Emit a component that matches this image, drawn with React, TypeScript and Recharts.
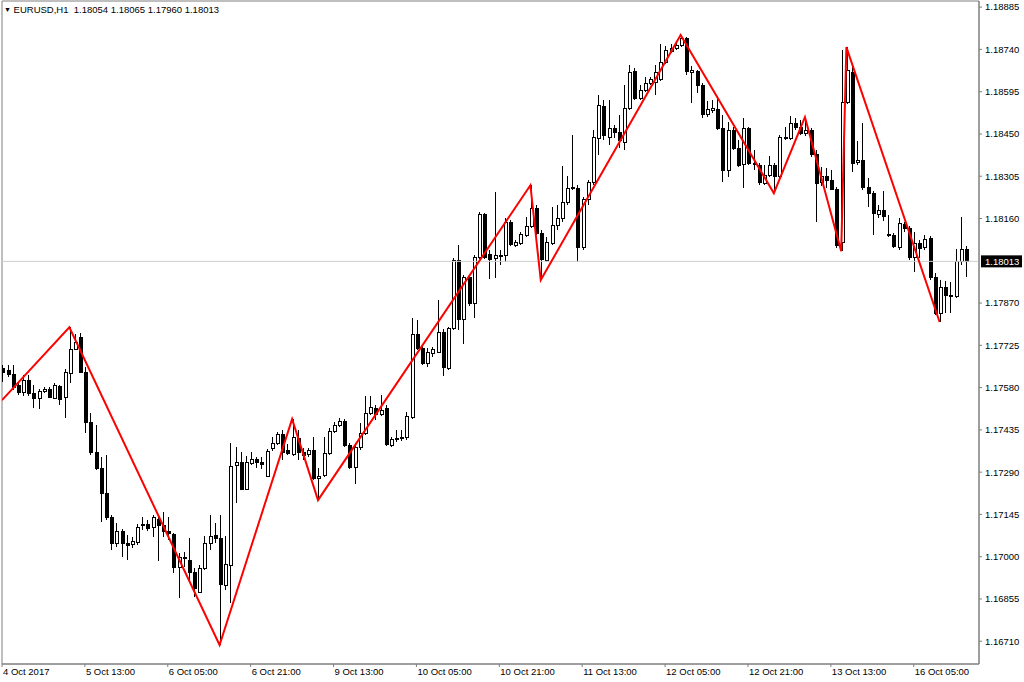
import React from "react";
import {
  Bar,
  ComposedChart,
  Line,
  ReferenceArea,
  ReferenceLine,
  XAxis,
  YAxis
} from "recharts";

const FONT = "'Liberation Sans', Arial, sans-serif";
const SYMBOL = "EURUSD,H1";
const LAST_OHLC = [1.18054, 1.18065, 1.1796, 1.18013];
const LAST_PRICE = 1.18013;

// EURUSD H1, 4 Oct 21:00 .. 16 Oct 15:00 (one value per bar)
const OPENS = [
  1.17647, 1.1764, 1.17626, 1.17588, 1.17564, 1.17606, 1.17561, 1.17544, 1.17568, 1.17575,
  1.17544, 1.17585, 1.17547, 1.1763, 1.17712, 1.17753, 1.17633, 1.17462, 1.17359, 1.17304,
  1.17218, 1.17136, 1.17047, 1.17088, 1.17047, 1.17043, 1.1705, 1.17112, 1.17112, 1.17101,
  1.17129, 1.17108, 1.17088, 1.17077, 1.16964, 1.16995, 1.16988, 1.16947, 1.16878, 1.16961,
  1.17047, 1.17074, 1.17064, 1.16902, 1.16971, 1.17314, 1.17324, 1.17232, 1.17321, 1.17335,
  1.17324, 1.17276, 1.17372, 1.17389, 1.1742, 1.17365, 1.17352, 1.17407, 1.17359, 1.17352,
  1.17365, 1.17269, 1.1728, 1.17355, 1.17431, 1.17451, 1.17465, 1.17383, 1.17307, 1.17376,
  1.17424, 1.17492, 1.1751, 1.17489, 1.1751, 1.17383, 1.17403, 1.17407, 1.1741, 1.17479,
  1.17763, 1.17715, 1.17664, 1.17698, 1.17702, 1.1777, 1.17647, 1.17784, 1.18017, 1.17815,
  1.17959, 1.1787, 1.18027, 1.18175, 1.18038, 1.18024, 1.18034, 1.18034, 1.18148, 1.18069,
  1.18075, 1.18103, 1.18134, 1.18196, 1.1811, 1.18017, 1.18075, 1.18137, 1.18161, 1.18216,
  1.18268, 1.18264, 1.18062, 1.18226, 1.18285, 1.18436, 1.18545, 1.18439, 1.18467, 1.18456,
  1.18422, 1.18539, 1.18665, 1.18573, 1.186, 1.18624, 1.18628, 1.18638, 1.18696, 1.18734,
  1.18744, 1.18755, 1.18779, 1.18662, 1.18665, 1.18617, 1.18515, 1.18532, 1.18535, 1.1847,
  1.18326, 1.18463, 1.18401, 1.18346, 1.18467, 1.1835, 1.18343, 1.18281, 1.18309, 1.18343,
  1.18305, 1.18436, 1.18436, 1.18487, 1.18473, 1.18453, 1.18463, 1.18381, 1.18285, 1.18305,
  1.18292, 1.18261, 1.18079, 1.18559, 1.18662, 1.18353, 1.1836, 1.18268, 1.18247, 1.18175,
  1.18189, 1.18106, 1.18103, 1.18062, 1.18141, 1.18124, 1.18027, 1.18075, 1.18062, 1.18093,
  1.17959, 1.17835, 1.17925, 1.17894, 1.17894, 1.18014, 1.18054
];

const HIGHS = [
  1.17657, 1.17657, 1.17657, 1.17599, 1.17623, 1.17623, 1.17588, 1.17575, 1.17582, 1.17582,
  1.17595, 1.17588, 1.17643, 1.17787, 1.17763, 1.17767, 1.1765, 1.17492, 1.17451, 1.17341,
  1.17348, 1.17143, 1.17115, 1.17094, 1.17074, 1.17067, 1.17112, 1.17136, 1.17125, 1.17143,
  1.17143, 1.17153, 1.17136, 1.17081, 1.17012, 1.17016, 1.17064, 1.16961, 1.16971, 1.17071,
  1.17143, 1.17115, 1.17143, 1.17071, 1.17389, 1.17376, 1.17359, 1.17345, 1.17359, 1.17341,
  1.17341, 1.17369, 1.1741, 1.17427, 1.17434, 1.17386, 1.17472, 1.17434, 1.17372, 1.17372,
  1.1741, 1.17304, 1.1741, 1.17441, 1.17462, 1.17475, 1.17472, 1.17389, 1.17389, 1.17458,
  1.17551, 1.17551, 1.1752, 1.17554, 1.1752, 1.1741, 1.17434, 1.17434, 1.17496, 1.17818,
  1.17811, 1.17726, 1.17715, 1.17719, 1.1788, 1.17781, 1.17787, 1.18024, 1.18069, 1.17966,
  1.17966, 1.18034, 1.18182, 1.18178, 1.18051, 1.1825, 1.18051, 1.18161, 1.18154, 1.18086,
  1.18113, 1.18165, 1.18274, 1.18206, 1.1812, 1.18096, 1.18199, 1.18206, 1.1834, 1.18305,
  1.18446, 1.18274, 1.18233, 1.18292, 1.18463, 1.18583, 1.18566, 1.18566, 1.1848, 1.18515,
  1.18617, 1.18686, 1.18676, 1.18617, 1.18645, 1.18645, 1.18686, 1.18758, 1.18751, 1.18758,
  1.18765, 1.18789, 1.18782, 1.18683, 1.18669, 1.18624, 1.18563, 1.18566, 1.1858, 1.18515,
  1.18491, 1.18473, 1.18429, 1.18504, 1.18473, 1.18394, 1.1835, 1.18343, 1.18374, 1.1835,
  1.18446, 1.18473, 1.18511, 1.18504, 1.18497, 1.18508, 1.1847, 1.18394, 1.18336, 1.18333,
  1.18326, 1.18268, 1.18737, 1.18748, 1.18686, 1.18425, 1.18487, 1.18298, 1.18254, 1.18206,
  1.18254, 1.18172, 1.1811, 1.18161, 1.18148, 1.18134, 1.18113, 1.18086, 1.18103, 1.181,
  1.17973, 1.17949, 1.17945, 1.17942, 1.18055, 1.18165, 1.18065
];

const LOWS = [
  1.17599, 1.17616, 1.17571, 1.17554, 1.17551, 1.17551, 1.1751, 1.17506, 1.17561, 1.17544,
  1.1754, 1.1752, 1.17475, 1.17595, 1.17709, 1.1763, 1.17424, 1.17348, 1.17297, 1.17119,
  1.17125, 1.17022, 1.17033, 1.16998, 1.16988, 1.17029, 1.1704, 1.17091, 1.17088, 1.17067,
  1.16985, 1.17067, 1.17057, 1.16944, 1.16858, 1.16964, 1.1692, 1.16861, 1.16875, 1.16954,
  1.17022, 1.17047, 1.16697, 1.16885, 1.16841, 1.17184, 1.17228, 1.17228, 1.17314, 1.17304,
  1.173, 1.17273, 1.17362, 1.17383, 1.17331, 1.17348, 1.17345, 1.17331, 1.17331, 1.17341,
  1.17263, 1.17194, 1.17273, 1.17348, 1.17424, 1.17444, 1.17376, 1.173, 1.17249, 1.17365,
  1.17417, 1.17485, 1.17468, 1.17482, 1.17379, 1.17376, 1.17393, 1.17396, 1.174, 1.17472,
  1.17709, 1.17657, 1.1765, 1.17684, 1.17698, 1.17619, 1.1764, 1.17777, 1.17777, 1.17729,
  1.17859, 1.17818, 1.18021, 1.18021, 1.17952, 1.17955, 1.18, 1.1801, 1.18065, 1.18062,
  1.18069, 1.18096, 1.18127, 1.18103, 1.17949, 1.1801, 1.18069, 1.1812, 1.18148, 1.18206,
  1.18257, 1.1801, 1.18051, 1.18206, 1.18274, 1.18377, 1.18429, 1.18412, 1.18436, 1.18401,
  1.18394, 1.18532, 1.18566, 1.18566, 1.18593, 1.18617, 1.18583, 1.18631, 1.18689, 1.18727,
  1.18737, 1.18748, 1.18652, 1.18556, 1.1859, 1.18504, 1.18508, 1.18521, 1.18463, 1.18285,
  1.18302, 1.18394, 1.18336, 1.18264, 1.18343, 1.18326, 1.18274, 1.18274, 1.18302, 1.18247,
  1.18298, 1.18429, 1.18429, 1.18463, 1.18446, 1.18443, 1.1837, 1.18148, 1.18271, 1.18264,
  1.18257, 1.18058, 1.18048, 1.18552, 1.18319, 1.18343, 1.18257, 1.18199, 1.18103, 1.18161,
  1.18151, 1.18096, 1.18058, 1.18051, 1.18113, 1.18017, 1.17976, 1.18024, 1.18051, 1.17949,
  1.17829, 1.17805, 1.17835, 1.17835, 1.17887, 1.18, 1.1796
];

const CLOSES = [
  1.17633, 1.17626, 1.17582, 1.17564, 1.17606, 1.17561, 1.17544, 1.17568, 1.17575, 1.17547,
  1.17588, 1.1754, 1.17633, 1.17712, 1.17736, 1.17633, 1.17462, 1.17359, 1.17304, 1.17218,
  1.17136, 1.17047, 1.17088, 1.17047, 1.1704, 1.17053, 1.17101, 1.17108, 1.17098, 1.17136,
  1.17108, 1.17088, 1.17081, 1.16964, 1.16998, 1.16998, 1.16947, 1.16892, 1.16961, 1.17047,
  1.17071, 1.17064, 1.16906, 1.16974, 1.17311, 1.17324, 1.17232, 1.17324, 1.17335, 1.17324,
  1.17317, 1.17362, 1.17389, 1.1742, 1.17359, 1.17355, 1.1741, 1.17359, 1.17348, 1.17365,
  1.17269, 1.17276, 1.17355, 1.17431, 1.17451, 1.17465, 1.17383, 1.17307, 1.17376, 1.17424,
  1.17492, 1.17513, 1.17489, 1.17503, 1.17386, 1.17403, 1.17407, 1.1741, 1.17482, 1.17763,
  1.17715, 1.17664, 1.17702, 1.17709, 1.1777, 1.1765, 1.17784, 1.18017, 1.17815, 1.17959,
  1.1787, 1.18027, 1.18175, 1.18027, 1.18021, 1.18034, 1.18031, 1.18148, 1.18072, 1.18079,
  1.18106, 1.18134, 1.18196, 1.1811, 1.18021, 1.18079, 1.18137, 1.18161, 1.18216, 1.18264,
  1.18264, 1.18062, 1.18226, 1.18285, 1.18439, 1.18549, 1.18443, 1.18467, 1.18456, 1.18429,
  1.18539, 1.18662, 1.18573, 1.186, 1.18624, 1.18638, 1.18662, 1.18696, 1.18737, 1.18744,
  1.18755, 1.18779, 1.18665, 1.18669, 1.18617, 1.18515, 1.18535, 1.18539, 1.1847, 1.18326,
  1.18463, 1.18401, 1.18343, 1.18467, 1.1835, 1.18346, 1.18285, 1.18309, 1.18343, 1.18305,
  1.18439, 1.18439, 1.18487, 1.18473, 1.18453, 1.18463, 1.18381, 1.18281, 1.18305, 1.18292,
  1.18261, 1.18069, 1.18559, 1.18669, 1.1835, 1.1836, 1.18268, 1.18247, 1.18178, 1.18189,
  1.18168, 1.18103, 1.18065, 1.18144, 1.18124, 1.18027, 1.18075, 1.18058, 1.18089, 1.17959,
  1.17835, 1.17925, 1.17897, 1.17897, 1.18014, 1.18055, 1.18013
];

// ZigZag pivots (bar index, price)
const ZIGZAG_BARS = [0, 13, 42, 56, 61, 102, 104, 131, 149, 155, 162, 163, 181];
const ZIGZAG_PRICES = [
  1.17537, 1.17787, 1.16697, 1.17472, 1.17194, 1.18274, 1.17949, 1.18789, 1.18247,
  1.18508, 1.18048, 1.18748, 1.17805
];

const X_TICK_BARS = [0, 16, 32, 48, 64, 80, 96, 112, 128, 144, 160, 176];
const X_TICK_LABELS = [
  "4 Oct 2017", "5 Oct 13:00", "6 Oct 05:00", "6 Oct 21:00", "9 Oct 13:00", "10 Oct 05:00",
  "10 Oct 21:00", "11 Oct 13:00", "12 Oct 05:00", "12 Oct 21:00", "13 Oct 13:00", "16 Oct 05:00"
];

const Y_TICKS = [
  1.18885, 1.1874, 1.18595, 1.1845, 1.18305, 1.1816, 1.1787, 1.17725, 1.1758, 1.17435,
  1.1729, 1.17145, 1.17, 1.16855, 1.1671
];

const Y_DOMAIN = [1.16632, 1.18906];
const X_DOMAIN = [0, 188.6];

const rows = OPENS.map((open, i) => {
  const k = ZIGZAG_BARS.indexOf(i);
  return {
    i,
    open,
    high: HIGHS[i],
    low: LOWS[i],
    close: CLOSES[i],
    range: [LOWS[i], HIGHS[i]],
    zz: k >= 0 ? ZIGZAG_PRICES[k] : null
  };
});

function Candle(props: any) {
  const { x, y, width, height, payload } = props;
  if (!payload) return null;
  const top = Math.min(y, y + height);
  const span = Math.abs(height);
  const { open, close, high, low } = payload;
  const toY = (p: number) =>
    high === low ? top : top + ((high - p) / (high - low)) * span;
  const cx = Math.round(x + width / 2) + 0.5;
  const bodyTop = toY(Math.max(open, close));
  const bodyBottom = toY(Math.min(open, close));
  const bull = close >= open;
  return (
    <g shapeRendering="crispEdges">
      <line x1={cx} x2={cx} y1={top} y2={top + span} stroke="#000" strokeWidth={1} />
      <rect
        x={cx - 1.5}
        y={bodyTop}
        width={3}
        height={Math.max(bodyBottom - bodyTop, 0.6)}
        fill={bull ? "#fff" : "#000"}
        stroke="#000"
        strokeWidth={1}
      />
    </g>
  );
}

function XTick(props: any) {
  const { x, y, payload } = props;
  const idx = X_TICK_BARS.indexOf(payload.value);
  return (
    <text x={x + 1} y={y} dy="0.71em" fontSize={9.5} fill="#000" fontFamily={FONT}>
      {X_TICK_LABELS[idx]}
    </text>
  );
}

function YTick(props: any) {
  const { x, y, payload } = props;
  return (
    <text x={x} y={y} dy="0.355em" fontSize={9.5} fill="#000" fontFamily={FONT}>
      {Number(payload.value).toFixed(5)}
    </text>
  );
}

function PriceTag(props: any) {
  const vb = props.viewBox || {};
  const right = vb.x + vb.width;
  return (
    <g>
      <rect x={right + 2} y={vb.y - 6} width={41} height={12} fill="#000" />
      <text
        x={right + 6}
        y={vb.y}
        dy="0.355em"
        fontSize={9.5}
        fill="#fff"
        fontFamily={FONT}
      >
        {LAST_PRICE.toFixed(5)}
      </text>
    </g>
  );
}

export default function App() {
  return (
    <div
      style={{
        position: "fixed",
        left: 0,
        top: 0,
        width: 1024,
        height: 682,
        background: "#fff",
        fontFamily: FONT
      }}
    >
      <ComposedChart
        width={1024}
        height={682}
        data={rows}
        margin={{ top: 1, right: 0, bottom: 0, left: 2 }}
      >
        <XAxis
          dataKey="i"
          type="number"
          domain={X_DOMAIN}
          allowDataOverflow
          ticks={X_TICK_BARS}
          interval={0}
          height={18}
          tickSize={3}
          tickMargin={1}
          tick={<XTick />}
          axisLine={{ stroke: "#7f7f7f" }}
          tickLine={{ stroke: "#7f7f7f" }}
        />
        <YAxis
          orientation="right"
          type="number"
          domain={Y_DOMAIN}
          allowDataOverflow
          ticks={Y_TICKS}
          interval={0}
          width={45}
          tickSize={3}
          tickMargin={3}
          tick={<YTick />}
          axisLine={{ stroke: "#7f7f7f" }}
          tickLine={{ stroke: "#7f7f7f" }}
        />
        <ReferenceArea
          x1={X_DOMAIN[0]}
          x2={X_DOMAIN[1]}
          y1={Y_DOMAIN[0]}
          y2={Y_DOMAIN[1]}
          fill="none"
          stroke="#7f7f7f"
          strokeWidth={1}
          ifOverflow="visible"
        />
        <ReferenceLine y={LAST_PRICE} stroke="#cfcfcf" strokeWidth={1} label={PriceTag} />
        <Bar
          dataKey="range"
          barSize={4}
          shape={<Candle />}
          isAnimationActive={false}
        />
        <Line
          dataKey="zz"
          type="linear"
          stroke="#ff0000"
          strokeWidth={2}
          dot={false}
          activeDot={false}
          connectNulls
          isAnimationActive={false}
        />
      </ComposedChart>
      <div
        style={{
          position: "absolute",
          left: 4,
          top: 4,
          fontSize: 9.5,
          lineHeight: "12px",
          color: "#000",
          whiteSpace: "pre"
        }}
      >
        <span style={{ fontSize: 7, verticalAlign: "1px" }}>▼</span>
        {" " + SYMBOL + "  " + LAST_OHLC.map((v) => v.toFixed(5)).join(" ")}
      </div>
    </div>
  );
}
